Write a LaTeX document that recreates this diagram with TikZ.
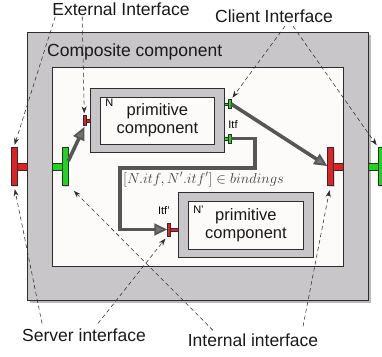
\documentclass[tikz,border=0pt]{standalone}
\usepackage{fontspec}
\setmainfont{Liberation Sans}
\usetikzlibrary{arrows.meta,shadows,positioning}

\definecolor{boxgray}{RGB}{200,198,201}
\definecolor{paper}{RGB}{253,250,250}
\definecolor{itfred}{RGB}{226,34,34}
\definecolor{itfgreen}{RGB}{30,214,30}
\definecolor{wire}{RGB}{86,86,86}
\definecolor{edge}{RGB}{45,45,45}

\tikzset{
  compbox/.style={draw=edge, line width=0.9pt, fill=boxgray, inner sep=0pt,
    drop shadow={shadow xshift=3pt, shadow yshift=-3pt, opacity=0.55}},
  primbox/.style={draw=edge, line width=0.8pt, fill=boxgray, inner sep=0pt},
  innerbox/.style={draw=edge, line width=0.7pt, fill=paper, inner sep=0pt},
  primtext/.style={align=center, font=\fontsize{16.5}{18}\selectfont, text=black!90},
  lbl/.style={font=\fontsize{17.5}{20}\selectfont, text=black!90, inner sep=1pt},
  tag/.style={font=\fontsize{11}{12}\selectfont, inner sep=0pt},
  srv/.style={draw=edge, line width=0.5pt, fill=itfred, inner sep=0pt},
  clt/.style={draw=edge, line width=0.5pt, fill=itfgreen, inner sep=0pt},
  bigbar/.style={minimum width=6pt, minimum height=38pt,
    drop shadow={shadow xshift=1pt, shadow yshift=-1.5pt, opacity=0.3}},
  smallbar/.style={minimum width=3pt, minimum height=9pt},
  bind/.style={draw=wire, line width=3.6pt,
    -{Triangle[fill=black!55, length=13pt, width=12pt, line width=1.8pt]}},
  hint/.style={draw=edge, line width=0.55pt, dash pattern=on 4pt off 3pt,
    -{Stealth[length=7pt, width=5pt]}},
}

\begin{document}
\begin{tikzpicture}[x=1pt, y=-1pt]
  \useasboundingbox (0,0) rectangle (382,356);

  % composite component
  \node[compbox, minimum width=341pt, minimum height=268pt, anchor=north west] (comp) at (27,32) {};
  \node[innerbox, minimum width=291pt, minimum height=199pt, anchor=north west] (body) at (52,67) {};
  \node[lbl, anchor=base west] (compLbl) at (46,56) {Composite component};

  % primitive components
  \node[primbox, minimum width=134pt, minimum height=64pt, anchor=north west] (N) at (90,88) {};
  \node[innerbox, primtext, minimum width=114pt, minimum height=47pt] (Nin) at (N.center) {primitive\\component};
  \node[tag, anchor=north west] (Ntag) at ([xshift=5pt,yshift=-2pt]Nin.north west) {N};

  \node[primbox, minimum width=135pt, minimum height=65pt, anchor=north west] (Np) at (178,192) {};
  \node[innerbox, primtext, minimum width=115pt, minimum height=48pt] (Npin) at (Np.center) {primitive\\component};
  \node[tag, anchor=north west] (Nptag) at ([xshift=5pt,yshift=-5pt]Npin.north west) {N'};

  % interfaces of the composite
  \draw[srv] (16.5,163) rectangle (27,170);
  \node[srv, bigbar] (srvExt) at (14,166) {};
  \draw[clt] (52,163) rectangle (62,170);
  \node[clt, bigbar] (cltInt) at (65,166) {};
  \draw[srv] (333.5,163) rectangle (343,170);
  \node[srv, bigbar] (srvInt) at (330.5,166) {};
  \draw[clt] (368,163) rectangle (378,170);
  \node[clt, bigbar] (cltExt) at (381,166) {};

  % interfaces of the primitives
  \draw[srv] (85.5,119.5) rectangle (90,122);
  \node[srv, smallbar, minimum height=10pt] (srvN) at (84.3,120.7) {};
  \draw[clt] (224,103) rectangle (228,105.5);
  \node[clt, smallbar] (cltN) at (229.5,104) {};
  \draw[clt] (224,137.5) rectangle (228,140);
  \node[clt, smallbar] (itfN) at (229.5,138.5) {};
  \node[tag] (itfNTag) at (233,125) {Itf};
  \draw[srv] (170.5,228) rectangle (178,231);
  \node[srv, smallbar, minimum height=13pt] (itfNp) at (169,229.5) {};
  \node[tag] (itfNpTag) at (164,211) {Itf'};

  % bindings
  \coordinate (turnA) at (255,168);
  \coordinate (turnB) at (120,168);
  \draw[bind] ([yshift=5pt]cltInt.east) -- ([yshift=-1pt]srvN.south);
  \draw[bind] (cltN.east) -- (srvInt.west);
  \draw[bind] (itfN.east) -| (turnA) -- (turnB) |- (itfNp.west);
  \node[anchor=north west, inner sep=0pt, text=black!75, font=\Large] (bindLbl)
    at ([xshift=3pt,yshift=-4pt]turnB) {$[N.itf, N'.itf'] \in bindings$};

  % captions
  \node[lbl] (extLbl) at (121,9) {External Interface};
  \node[lbl] (cltLbl) at (274,16.5) {Client Interface};
  \node[lbl] (srvLbl) at (84,335) {Server interface};
  \node[lbl] (intLbl) at (253,340) {Internal interface};

  \draw[hint, shorten >=2pt] ([xshift=4pt]extLbl.south west) -- (srvExt.north);
  \draw[hint, shorten >=2pt] ([xshift=31pt]extLbl.south west) -- (srvN.north);
  \draw[hint, shorten >=2pt] ([xshift=11pt,yshift=-2pt]cltLbl.south) -- (cltN.north east);
  \draw[hint, shorten >=2pt] ([xshift=19pt,yshift=-2pt]cltLbl.south) -- (cltExt.north west);
  \draw[hint, shorten >=4pt] ([xshift=-42pt,yshift=4pt]srvLbl.north) -- (srvExt.south);
  \draw[hint, shorten >=3pt] ([xshift=14pt,yshift=4pt]srvLbl.north) -- (itfNp.south west);
  \draw[hint, shorten >=8pt] ([xshift=-40pt,yshift=2pt]intLbl.north) -- (cltInt.south east);
  \draw[hint, shorten >=5pt] ([xshift=50pt,yshift=6pt]intLbl.north) -- (srvInt.south);
\end{tikzpicture}
\end{document}
